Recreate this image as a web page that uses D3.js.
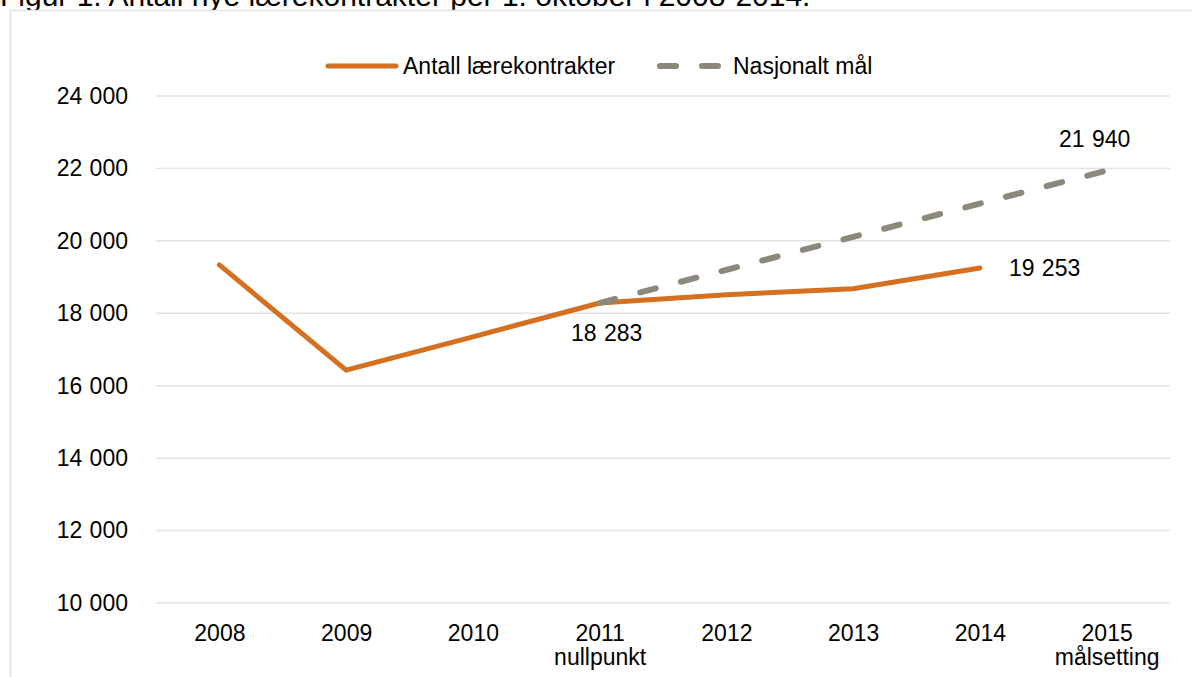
<!DOCTYPE html>
<html>
<head>
<meta charset="utf-8">
<script src="https://cdn.jsdelivr.net/npm/d3@7"></script>
<style>
  body { margin: 0; background: #fff; }
  svg { display: block; font-family: "Liberation Sans", Arial, sans-serif; }
  .grid line { stroke: #e4e4e4; stroke-width: 1.5; }
  .axis text { fill: #000; font-size: 23px; }
</style>
</head>
<body>
<div id="chart"></div>
<script>
// data
var years = ["2008", "2009", "2010", "2011", "2012", "2013", "2014", "2015"];
var yearNotes = ["", "", "", "nullpunkt", "", "", "", "målsetting"];
var contracts = [19335, 16430, 17350, 18283, 18510, 18680, 19253];
var goalYears = ["2011", "2012", "2013", "2014", "2015"];
var goal = [18283, 19200, 20110, 21030, 21940];
var yTicks = [10000, 12000, 14000, 16000, 18000, 20000, 22000, 24000];

var W = 1192, H = 677;
var dim = { left: 156, right: 1170, top: 96, bottom: 603 };

var nb = d3.formatLocale({ decimal: ",", thousands: " ", grouping: [3], currency: ["", " kr"] });
var fmt = nb.format(",d");

var svg = d3.select("#chart").append("svg")
  .attr("width", W)
  .attr("height", H);

// title, cut at the top edge as in the source image
svg.append("text")
  .attr("x", 0)
  .attr("y", 6)
  .style("font-size", "30px")
  .text("Figur 1. Antall nye lærekontrakter per 1. oktober i 2008-2014.");

// chart frame
svg.append("rect")
  .attr("x", 10.5).attr("y", 10.5)
  .attr("width", 1190).attr("height", 700)
  .attr("fill", "#fff")
  .attr("stroke", "#e2e2e2")
  .attr("stroke-width", 1.5);

var x = d3.scalePoint()
  .domain(years)
  .range([dim.left, dim.right])
  .padding(0.5);

var y = d3.scaleLinear()
  .domain([10000, 24000])
  .range([dim.bottom, dim.top]);

// gridlines
svg.append("g")
  .attr("class", "grid")
  .selectAll("line")
  .data(yTicks)
  .enter().append("line")
  .attr("x1", dim.left).attr("x2", dim.right)
  .attr("y1", function(d) { return y(d); })
  .attr("y2", function(d) { return y(d); });

// y axis labels
var yAxis = d3.axisLeft(y).tickValues(yTicks).tickFormat(fmt).tickSize(0).tickPadding(28);
var gy = svg.append("g")
  .attr("class", "axis")
  .attr("transform", "translate(" + dim.left + ",0)")
  .call(yAxis);
gy.select(".domain").remove();
gy.selectAll("text").style("word-spacing", "1px");

// x axis labels
var xAxis = d3.axisBottom(x).tickSize(0).tickPadding(22);
var gx = svg.append("g")
  .attr("class", "axis")
  .attr("transform", "translate(0," + dim.bottom + ")")
  .call(xAxis);
gx.select(".domain").remove();
gx.selectAll(".tick").append("text")
  .attr("y", 46)
  .attr("dy", "0.71em")
  .attr("fill", "#000")
  .text(function(d, i) { return yearNotes[i]; });

var line = d3.line()
  .x(function(d) { return x(d[0]); })
  .y(function(d) { return y(d[1]); });

var orange = "#d4701f", grey = "#8c897a";

svg.append("path")
  .datum(contracts.map(function(v, i) { return [years[i], v]; }))
  .attr("d", line)
  .attr("fill", "none")
  .attr("stroke", orange)
  .attr("stroke-width", 5)
  .attr("stroke-linejoin", "round")
  .attr("stroke-linecap", "round");

svg.append("path")
  .datum(goal.map(function(v, i) { return [goalYears[i], v]; }))
  .attr("d", line)
  .attr("fill", "none")
  .attr("stroke", grey)
  .attr("stroke-width", 6)
  .attr("stroke-dasharray", "16,26")
  .attr("stroke-linecap", "round");

// data labels
var labels = svg.append("g")
  .style("font-size", "23px")
  .style("word-spacing", "1px");
labels.append("text")
  .attr("x", x("2011") + 7).attr("y", y(contracts[3]) + 38)
  .attr("text-anchor", "middle")
  .text(fmt(contracts[3]));
labels.append("text")
  .attr("x", x("2014") + 29).attr("y", y(contracts[6]) + 8)
  .text(fmt(contracts[6]));
labels.append("text")
  .attr("x", x("2015") - 12).attr("y", y(goal[4]) - 24)
  .attr("text-anchor", "middle")
  .text(fmt(goal[4]));

// legend
var lg = svg.append("g")
  .attr("transform", "translate(0,66)")
  .style("font-size", "23px");
lg.append("line")
  .attr("x1", 328).attr("x2", 396)
  .attr("stroke", orange).attr("stroke-width", 5)
  .attr("stroke-linecap", "round");
lg.append("text")
  .attr("x", 403).attr("y", 8)
  .text("Antall lærekontrakter");
lg.append("line")
  .attr("x1", 660).attr("x2", 720)
  .attr("stroke", grey).attr("stroke-width", 6)
  .attr("stroke-dasharray", "16,26")
  .attr("stroke-linecap", "round");
lg.append("text")
  .attr("x", 733).attr("y", 8)
  .text("Nasjonalt mål");
</script>
</body>
</html>
